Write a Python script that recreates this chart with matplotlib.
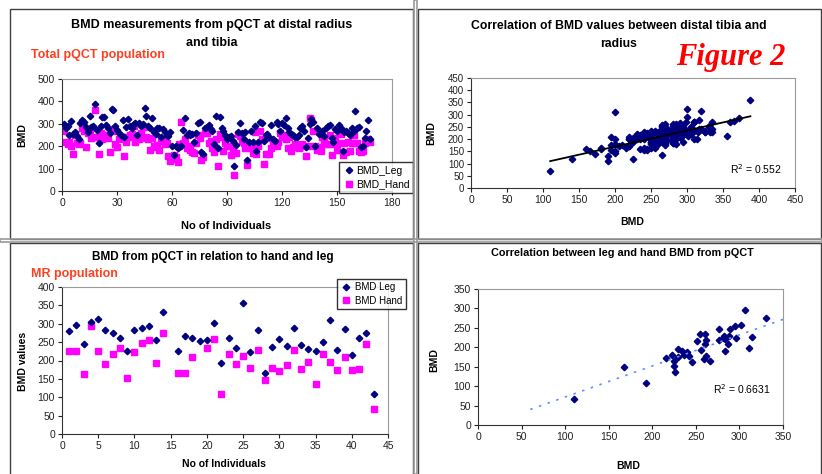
import numpy as np
import matplotlib
matplotlib.use("Agg")
import matplotlib.pyplot as plt
from matplotlib.patches import Rectangle

plt.rcParams['font.family'] = ['Liberation Sans', 'DejaVu Sans']

# total pQCT population (top panels)
leg_total = [
    299, 280, 290, 250, 314, 255, 265, 245, 230, 302,
    317, 310, 284, 265, 335, 285, 290, 388, 272, 215,
    290, 332, 330, 295, 280, 257, 365, 360, 290, 272,
    260, 250, 316, 240, 285, 320, 290, 280, 300, 305,
    250, 305, 290, 300, 372, 335, 290, 280, 325, 262,
    255, 280, 282, 240, 275, 265, 250, 245, 265, 200,
    160, 200, 190, 195, 200, 272, 325, 250, 260, 250,
    255, 220, 260, 305, 310, 172, 165, 280, 285, 295,
    275, 270, 210, 335, 190, 330, 280, 270, 250, 230,
    240, 245, 225, 110, 205, 265, 305, 260, 230, 265,
    140, 220, 270, 220, 290, 180, 220, 310, 305, 225,
    250, 255, 240, 295, 230, 225, 310, 300, 270, 305,
    295, 325, 280, 265, 255, 250, 240, 240, 250, 280,
    290, 270, 195, 235, 300, 320, 310, 200, 280, 255,
    260, 270, 245, 280, 290, 295, 235, 220, 275, 270,
    295, 280, 180, 265, 270, 260, 250, 280, 270, 355,
    280, 285, 195, 200, 235, 270, 315, 230]
hand_total = [
    268, 220, 210, 220, 200, 165, 250, 213, 210, 213,
    280, 270, 198, 257, 272, 235, 240, 362, 240, 165,
    257, 230, 250, 250, 235, 175, 275, 270, 210, 198,
    230, 235, 240, 155, 220, 240, 250, 255, 290, 220,
    230, 230, 260, 235, 285, 240, 230, 185, 235, 200,
    195, 205, 185, 230, 225, 210, 215, 155, 135, 145,
    160, 150, 130, 210, 310, 215, 230, 190, 200, 185,
    175, 170, 215, 250, 235, 140, 150, 260, 260, 215,
    225, 190, 175, 230, 110, 255, 240, 180, 215, 200,
    200, 160, 190, 70, 170, 255, 245, 225, 215, 190,
    118, 200, 190, 170, 265, 165, 200, 270, 230, 120,
    165, 235, 165, 190, 215, 205, 200, 220, 260, 250,
    240, 230, 190, 240, 180, 195, 210, 205, 190, 200,
    210, 200, 155, 200, 325, 315, 270, 200, 185, 195,
    180, 240, 225, 210, 210, 250, 160, 210, 235, 185,
    215, 255, 160, 215, 175, 220, 180, 215, 250, 213,
    215, 180, 175, 180, 215, 225, 230, 220]
r2_total = "0.552"

# MR population (bottom panels), nan = no value
leg_mr = [281, 296, 245, 306, 314, 284, 276, 261, 225, 284,
          289, 295, 256, 331, np.nan, 225, 266, 261, 254, 255,
          302, 193, 262, 234, 357, 223, 282, 167, 236, 259,
          240, 288, 242, 230, 226, 251, 311, 229, 287, 216,
          262, 276, 110]
hand_mr = [225, 225, 162, 295, 226, 190, 218, 233, 153, 222,
           247, 255, 193, 275, np.nan, 165, 165, 209, np.nan, 235,
           258, 109, 218, 190, 212, 180, 229, 148, 180, 171,
           188, 228, 177, 195, 136, 217, 197, 174, 209, 173,
           178, 246, 68]
r2_mr = "0.6631"

W, H = 822, 474
fig = plt.figure(figsize=(W / 100, H / 100), dpi=100)


def box(x0, y0, x1, y1):
    # pixel box (top-left origin) -> axes rect
    return [x0 / W, 1 - y1 / H, (x1 - x0) / W, (y1 - y0) / H]


def fx(x):
    return x / W


def fy(y):
    return 1 - y / H


# panel frames
for (x0, y0, x1, y1) in [(10, 9, 413, 239), (418, 9, 821, 239),
                         (10, 243, 413, 480), (418, 243, 821, 480)]:
    fig.add_artist(Rectangle((fx(x0), fy(y1)), fx(x1 - x0), (y1 - y0) / H,
                             transform=fig.transFigure, fill=False,
                             edgecolor='#404040', lw=1.0))
fig.add_artist(Rectangle((fx(414), 0), fx(3), 1, transform=fig.transFigure,
                         facecolor='none', edgecolor='#9a9a9a', lw=1.2))
fig.add_artist(Rectangle((0, fy(242)), 1, 3 / H, transform=fig.transFigure,
                         facecolor='none', edgecolor='#9a9a9a', lw=1.2))


def style(ax):
    for s in ['top', 'right']:
        ax.spines[s].set_color('#9a9a9a')
    for s in ['left', 'bottom']:
        ax.spines[s].set_color('#333333')
    for s in ax.spines.values():
        s.set_linewidth(0.8)
    ax.tick_params(direction='out', length=3, width=0.8, labelsize=7.5,
                   pad=2, colors='#222222')


navy = '#000080'
pink = '#ff00ff'

# ---- top left
ax1 = fig.add_axes(box(62, 79, 392, 191))
n1 = np.arange(1, len(leg_total) + 1)
ax1.plot(n1, leg_total, 'D', color=navy, ms=3.3, label='BMD_Leg', zorder=3)
ax1.plot(n1, hand_total, 's', color=pink, ms=4, label='BMD_Hand', zorder=2)
ax1.set_xlim(0, 180)
ax1.set_ylim(0, 500)
ax1.set_xticks(range(0, 181, 30))
ax1.set_yticks(range(0, 501, 100))
style(ax1)
ax1.legend(loc='upper left', bbox_to_anchor=(fx(339), fy(162)),
           bbox_transform=fig.transFigure, fontsize=7.5, frameon=True,
           fancybox=False, edgecolor='black', borderpad=0.35,
           handletextpad=0.1, handlelength=1.2, labelspacing=0.35,
           borderaxespad=0)
fig.text(fx(212), fy(25), 'BMD measurements from pQCT at distal radius',
         ha='center', va='center', fontsize=9, fontweight='bold')
fig.text(fx(212), fy(43), 'and tibia',
         ha='center', va='center', fontsize=9, fontweight='bold')
fig.text(fx(31), fy(55), 'Total pQCT population', ha='left', va='center',
         fontsize=9, fontweight='bold', color='#ff4020')
fig.text(fx(22), fy(135), 'BMD', rotation=90, ha='center', va='center',
         fontsize=7.5, fontweight='bold')
fig.text(fx(226), fy(226), 'No of Individuals', ha='center', va='center',
         fontsize=8, fontweight='bold')

# ---- top right
ax2 = fig.add_axes(box(471, 78, 795, 188))
lt = np.array(leg_total, float)
ht = np.array(hand_total, float)
ax2.plot(lt, ht, 'D', color=navy, ms=3.3)
k, b = np.polyfit(lt, ht, 1)
xs = np.array([lt.min(), lt.max()])
ax2.plot(xs, k * xs + b, color='black', lw=1.3)
ax2.set_xlim(0, 450)
ax2.set_ylim(0, 450)
ax2.set_xticks(range(0, 451, 50))
ax2.set_yticks(range(0, 451, 50))
style(ax2)
ax2.tick_params(axis='y', labelsize=7)
fig.text(fx(730), fy(169), 'R$^2$ = ' + r2_total, ha='left', va='center',
         fontsize=7.5)
fig.text(fx(619), fy(26), 'Correlation of BMD values between distal tibia and',
         ha='center', va='center', fontsize=8.8, fontweight='bold')
fig.text(fx(619), fy(44), 'radius',
         ha='center', va='center', fontsize=8.8, fontweight='bold')
fig.text(fx(731), fy(57), 'Figure 2', ha='center', va='center',
         fontsize=22, fontweight='bold', fontstyle='italic', color='#ff0000',
         family=['Liberation Serif', 'DejaVu Serif'])
fig.text(fx(431), fy(133), 'BMD', rotation=90, ha='center', va='center',
         fontsize=7.5, fontweight='bold')
fig.text(fx(632), fy(222), 'BMD', ha='center', va='center',
         fontsize=7.5, fontweight='bold')

# ---- bottom left
ax3 = fig.add_axes(box(62, 287, 388, 434))
n3 = np.arange(1, len(leg_mr) + 1)
ax3.plot(n3, leg_mr, 'D', color=navy, ms=3.3, label='BMD Leg', zorder=3)
ax3.plot(n3, hand_mr, 's', color=pink, ms=4.2, label='BMD Hand', zorder=2)
ax3.set_xlim(0, 45)
ax3.set_ylim(0, 400)
ax3.set_xticks(range(0, 46, 5))
ax3.set_yticks(range(0, 401, 50))
style(ax3)
ax3.legend(loc='upper left', bbox_to_anchor=(fx(337), fy(279)),
           bbox_transform=fig.transFigure, fontsize=7, frameon=True,
           fancybox=False, edgecolor='black', borderpad=0.35,
           handletextpad=0.3, handlelength=1.2, labelspacing=0.35,
           borderaxespad=0)
fig.text(fx(213), fy(257), 'BMD from pQCT in relation to hand and leg',
         ha='center', va='center', fontsize=8.5, fontweight='bold')
fig.text(fx(31), fy(274), 'MR population', ha='left', va='center',
         fontsize=9, fontweight='bold', color='#ff4020')
fig.text(fx(23), fy(361), 'BMD values', rotation=90, ha='center',
         va='center', fontsize=7.5, fontweight='bold')
fig.text(fx(224), fy(464), 'No of Individuals', ha='center', va='center',
         fontsize=7.5, fontweight='bold')

# ---- bottom right
ax4 = fig.add_axes(box(478, 289, 783, 425))
lm = np.array(leg_mr, float)
hm = np.array(hand_mr, float)
ok = ~np.isnan(lm) & ~np.isnan(hm)
ax4.plot(lm[ok], hm[ok], 'D', color=navy, ms=3.3)
k4, b4 = np.polyfit(lm[ok], hm[ok], 1)
xs4 = np.array([60, 350])
ax4.plot(xs4, k4 * xs4 + b4, color='#5f8fff', lw=1.2, ls=(0, (1.5, 4)))
ax4.set_xlim(0, 350)
ax4.set_ylim(0, 350)
ax4.set_xticks(range(0, 351, 50))
ax4.set_yticks(range(0, 351, 50))
style(ax4)
fig.text(fx(713), fy(389), 'R$^2$ = ' + r2_mr, ha='left', va='center',
         fontsize=7.5)
fig.text(fx(622), fy(253), 'Correlation between leg and hand BMD from pQCT',
         ha='center', va='center', fontsize=7.8, fontweight='bold')
fig.text(fx(434), fy(360), 'BMD', rotation=90, ha='center', va='center',
         fontsize=7.5, fontweight='bold')
fig.text(fx(628), fy(466), 'BMD', ha='center', va='center',
         fontsize=7.5, fontweight='bold')

fig.savefig('out.png', dpi=100)
